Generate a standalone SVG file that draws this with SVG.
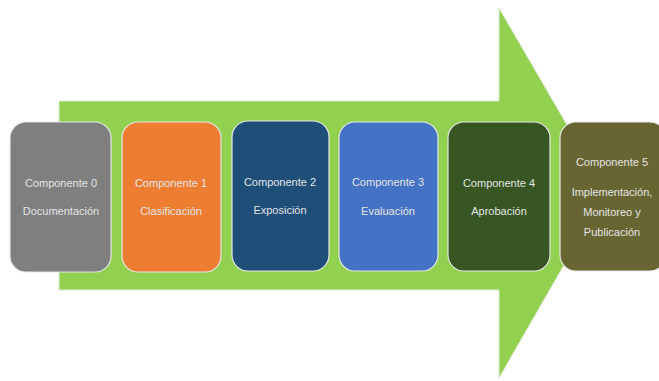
<svg xmlns="http://www.w3.org/2000/svg" width="659" height="381" viewBox="0 0 659 381">
<style>
.box{stroke:#e6e6e6;stroke-width:1.2}
.t{font-family:"Liberation Sans",Arial,sans-serif;font-size:11px;fill:#e4e4e4;text-anchor:middle}
</style>
<rect width="659" height="381" fill="#ffffff"/>
<g id="arrow">
<polygon points="59,101 499,101 499,8 606,192 499,378 499,290 59,290" fill="#92d050" stroke="#dfe8d6" stroke-width="1"/>
</g>
<g id="connectors"></g>
<g id="c0"><rect class="box" x="10" y="122" width="101" height="150" rx="16" fill="#7f7f7f"/><text class="t" x="61" y="187">Componente 0</text><text class="t" x="61" y="215">Documentación</text></g>
<g id="c1"><rect class="box" x="122" y="122" width="99" height="150" rx="16" fill="#ed7d31"/><text class="t" x="171" y="187">Componente 1</text><text class="t" x="171" y="215">Clasificación</text></g>
<g id="c2"><rect class="box" x="232" y="121" width="97" height="150" rx="16" fill="#1f4e79"/><text class="t" x="280" y="186">Componente 2</text><text class="t" x="280" y="214">Exposición</text></g>
<g id="c3"><rect class="box" x="339" y="122" width="99" height="149" rx="16" fill="#4472c4"/><text class="t" x="388" y="186">Componente 3</text><text class="t" x="388" y="215">Evaluación</text></g>
<g id="c4"><rect class="box" x="448" y="122" width="102" height="149" rx="16" fill="#375623"/><text class="t" x="499" y="187">Componente 4</text><text class="t" x="499" y="215">Aprobación</text></g>
<g id="c5"><rect class="box" x="560" y="122" width="106" height="149" rx="16" fill="#676633"/><text class="t" x="612" y="166">Componente 5</text><text class="t" x="612" y="196">Implementación,</text><text class="t" x="612" y="216">Monitoreo y</text><text class="t" x="612" y="236">Publicación</text></g>
</svg>
